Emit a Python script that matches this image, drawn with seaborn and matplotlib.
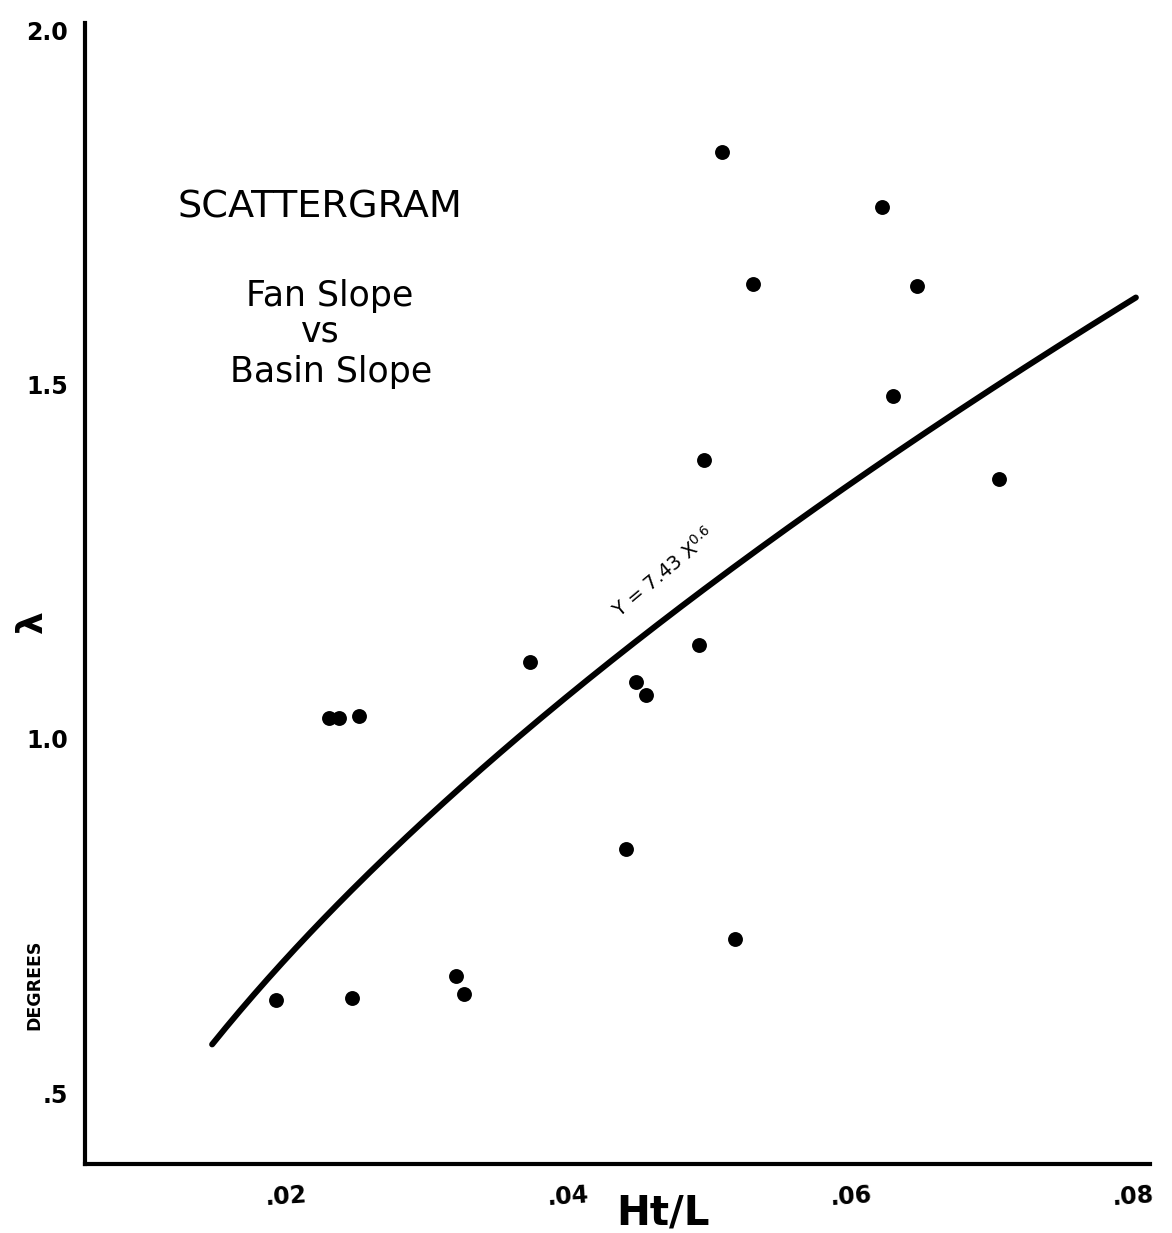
import numpy as np
import pandas as pd
import matplotlib
matplotlib.use("Agg")
import matplotlib.pyplot as plt
from matplotlib.transforms import ScaledTranslation
import seaborn as sns

# Basin slope (Ht/L) and fan slope (degrees) for each fan
basin_slope = [0.0183, 0.0221, 0.0228, 0.0242, 0.0237, 0.0311, 0.0316, 0.0363,
               0.0431, 0.0438, 0.0445, 0.0483, 0.0486, 0.0499, 0.0508, 0.0521,
               0.0612, 0.0620, 0.0637, 0.0695]
fan_slope = [0.631, 1.029, 1.029, 1.032, 0.634, 0.665, 0.640, 1.109,
             0.844, 1.080, 1.062, 1.133, 1.393, 1.828, 0.717, 1.642,
             1.750, 1.484, 1.639, 1.366]

# Power-law fit Y = a * X^b and the span over which it is drawn
fit_a = 7.43
fit_b = 0.6
fit_x_start = 0.0138
fit_x_end = 0.0792

x_ticks = [0.02, 0.04, 0.06, 0.08]
x_tick_labels = [".02", ".04", ".06", ".08"]
y_ticks = [0.5, 1.0, 1.5, 2.0]
y_tick_labels = [".5", "1.0", "1.5", "2.0"]

W, H = 1172, 1233
sns.set_style("white")
plt.rcParams["font.family"] = ["DejaVu Sans"]
plt.rcParams["text.color"] = "black"
plt.rcParams["xtick.color"] = "black"
plt.rcParams["ytick.color"] = "black"
plt.rcParams["axes.labelcolor"] = "black"

fig = plt.figure(figsize=(W / 100, H / 100), dpi=100)
ax = fig.add_axes([85 / W, 69 / H, 1065 / W, 1141 / H])

df = pd.DataFrame({"x": basin_slope, "y": fan_slope})
sns.scatterplot(data=df, x="x", y="y", ax=ax, color="black", s=115,
                edgecolor="black", linewidth=0, zorder=3)

fx = np.linspace(fit_x_start, fit_x_end, 200)
fit = pd.DataFrame({"x": fx, "y": fit_a * fx ** fit_b})
sns.lineplot(data=fit, x="x", y="y", ax=ax, color="black", linewidth=4.3,
             solid_capstyle="round", zorder=2)

ax.set_xlim(0.0048, 0.0802)
ax.set_ylim(0.40, 2.01)
ax.set_xlabel("")
ax.set_ylabel("")

for side in ("top", "right"):
    ax.spines[side].set_visible(False)
for side in ("left", "bottom"):
    ax.spines[side].set_linewidth(3.0)
    ax.spines[side].set_color("black")

ax.set_xticks(x_ticks)
ax.set_xticklabels(x_tick_labels, fontsize=17, fontweight="bold", rotation=4)
ax.set_yticks(y_ticks)
ax.set_yticklabels(y_tick_labels, fontsize=17, fontweight="bold")
ax.tick_params(axis="x", direction="out", length=5, width=2.5, pad=9, colors="black")
ax.tick_params(axis="y", direction="out", length=4, width=2.5, pad=8, colors="black")
shift = ScaledTranslation(-14 / 100, 0, fig.dpi_scale_trans)
for lab in ax.get_xticklabels():
    lab.set_transform(lab.get_transform() + shift)


def ftext(x, y, s, **kw):
    fig.text(x / W, 1 - y / H, s, color="black", **kw)


ftext(320, 208, "SCATTERGRAM", fontsize=27.5, ha="center", va="center")
ftext(330, 296, "Fan Slope", fontsize=25, ha="center", va="center")
ftext(320, 332, "vs", fontsize=25, ha="center", va="center")
ftext(331, 372, "Basin Slope", fontsize=25, ha="center", va="center")

ftext(664, 572, r"Y = 7.43 X$^{\mathregular{0.6}}$", fontsize=14, ha="center",
      va="center", rotation=40, rotation_mode="anchor")

ftext(663, 1213, "Ht/L", fontsize=29, ha="center", va="center", fontweight="bold")
ftext(32, 622, "λ", fontsize=26, ha="center", va="center", fontweight="bold", rotation=90)
ftext(34, 985, "DEGREES", fontsize=12.5, ha="center", va="center", fontweight="bold", rotation=90)

fig.savefig("out.png", dpi=100, facecolor="white")
